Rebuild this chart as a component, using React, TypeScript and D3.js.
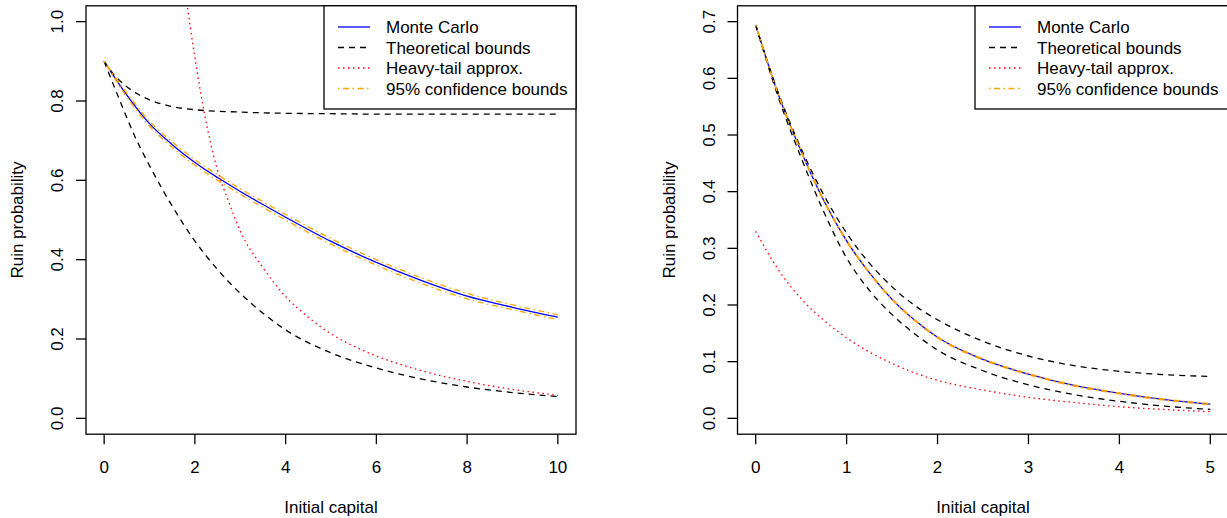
import React from 'react';
import * as d3 from 'd3';

// ---------- Left panel data ----------
const xTicksL = [0, 2, 4, 6, 8, 10];
const yTicksL = [0, 0.2, 0.4, 0.6, 0.8, 1.0];

const mcXL = [0, 0.5, 1, 1.5, 2, 2.5, 3, 3.5, 4, 5, 6, 7, 8, 9, 10];
const mcL = [0.900, 0.815, 0.743, 0.690, 0.645, 0.607, 0.572, 0.539, 0.507, 0.446, 0.393, 0.347, 0.308, 0.280, 0.255];
const ciUpL = [0.900, 0.820, 0.749, 0.697, 0.652, 0.614, 0.579, 0.546, 0.514, 0.453, 0.400, 0.354, 0.315, 0.286, 0.261];
const ciLoL = [0.900, 0.810, 0.737, 0.683, 0.638, 0.600, 0.565, 0.532, 0.500, 0.439, 0.386, 0.340, 0.301, 0.274, 0.249];

const ubXL = [0, 0.25, 0.5, 0.75, 1, 1.5, 2, 3, 4, 5, 6, 8, 10];
const ubL = [0.900, 0.862, 0.836, 0.817, 0.803, 0.786, 0.778, 0.772, 0.769, 0.768, 0.767, 0.767, 0.767];

const lbXL = [0, 0.35, 0.7, 1, 1.5, 2, 2.5, 3, 3.5, 4, 5, 6, 7, 8, 9, 10];
const lbL = [0.900, 0.800, 0.705, 0.637, 0.535, 0.447, 0.375, 0.315, 0.265, 0.223, 0.165, 0.127, 0.099, 0.079, 0.065, 0.055];

const htXL = [1.6, 1.7, 1.8, 2, 2.2, 2.5, 2.75, 3, 3.5, 4, 4.5, 5, 5.5, 6, 6.5, 7, 8, 9, 10];
const htL = [1.26, 1.17, 1.07, 0.91, 0.775, 0.625, 0.545, 0.472, 0.380, 0.307, 0.255, 0.213, 0.182, 0.157, 0.137, 0.120, 0.093, 0.073, 0.058];

// ---------- Right panel data ----------
const xTicksR = [0, 1, 2, 3, 4, 5];
const yTicksR = [0, 0.1, 0.2, 0.3, 0.4, 0.5, 0.6, 0.7];

const gridR = [0, 0.25, 0.5, 0.75, 1, 1.25, 1.5, 1.75, 2, 2.5, 3, 3.5, 4, 4.5, 5];
const mcR = [0.694, 0.571, 0.471, 0.384, 0.313, 0.257, 0.210, 0.173, 0.143, 0.104, 0.078, 0.058, 0.044, 0.033, 0.025];
const ciUpR = [0.694, 0.572, 0.472, 0.385, 0.314, 0.258, 0.211, 0.174, 0.144, 0.105, 0.079, 0.059, 0.045, 0.034, 0.026];
const ciLoR = [0.694, 0.570, 0.470, 0.383, 0.312, 0.256, 0.209, 0.172, 0.142, 0.103, 0.077, 0.057, 0.043, 0.032, 0.024];
const ubR = [0.694, 0.574, 0.476, 0.394, 0.327, 0.274, 0.232, 0.199, 0.174, 0.136, 0.110, 0.093, 0.083, 0.077, 0.074];
const lbR = [0.694, 0.566, 0.460, 0.364, 0.283, 0.226, 0.183, 0.149, 0.1205, 0.084, 0.059, 0.042, 0.030, 0.0215, 0.0158];
const htR = [0.330, 0.262, 0.211, 0.173, 0.142, 0.117, 0.097, 0.080, 0.067, 0.050, 0.037, 0.028, 0.0205, 0.0155, 0.0117];

const legendLabels = ['Monte Carlo', 'Theoretical bounds', 'Heavy-tail approx.', '95% confidence bounds'];
const xLabel = 'Initial capital';
const yLabel = 'Ruin probability';

const FONT = '"Liberation Sans", Arial, Helvetica, sans-serif';
const LW = 1.3;

const styles = {
  mc: { stroke: '#0000ff', dash: undefined as string | undefined },
  bound: { stroke: '#000000', dash: '6 5' },
  heavy: { stroke: '#ff0000', dash: '1.5 3.5' },
  ci: { stroke: '#ffa500', dash: '1.5 3.5 6 3.5' },
};
const legendStyles = [styles.mc, styles.bound, styles.heavy, styles.ci];

type Series = { xs: number[]; ys: number[]; style: { stroke: string; dash?: string } };

function Panel(props: {
  id: string;
  x0: number; x1: number; y0: number; y1: number;
  xDomain: [number, number]; yDomain: [number, number];
  xTicks: number[]; yTicks: number[];
  series: Series[];
  legendLeft: number;
}) {
  const { id, x0, x1, y0, y1, xDomain, yDomain, xTicks, yTicks, series, legendLeft } = props;
  const x = d3.scaleLinear().domain(xDomain).range([x0, x1]);
  const y = d3.scaleLinear().domain(yDomain).range([y1, y0]);
  const fmt = d3.format('.1f');
  const legendBottom = 109;
  const rowY = [27, 47.5, 68, 88.5];
  const sampleX0 = legendLeft + 14;
  const sampleX1 = legendLeft + 46;
  const textX = legendLeft + 62;
  return (
    <g>
      <defs>
        <clipPath id={id}>
          <rect x={x0} y={y0} width={x1 - x0} height={y1 - y0} />
        </clipPath>
      </defs>
      <g clipPath={`url(#${id})`}>
        {series.map((s, i) => {
          const pts = s.xs.map((xv, j) => [xv, s.ys[j]] as [number, number]);
          const line = d3.line<[number, number]>()
            .x(d => x(d[0]))
            .y(d => y(d[1]))
            .curve(d3.curveMonotoneX);
          return (
            <path key={i} d={line(pts) || ''} fill="none" stroke={s.style.stroke}
              strokeWidth={LW} strokeDasharray={s.style.dash} />
          );
        })}
      </g>
      {/* box */}
      <rect x={x0} y={y0} width={x1 - x0} height={y1 - y0} fill="none" stroke="#000" strokeWidth={LW} />
      {/* x axis */}
      {xTicks.map(t => (
        <g key={'xt' + t}>
          <line x1={x(t)} x2={x(t)} y1={y1} y2={y1 + 10} stroke="#000" strokeWidth={LW} />
          <text x={x(t)} y={473} textAnchor="middle" fontSize={17} fontFamily={FONT}>{t}</text>
        </g>
      ))}
      {/* y axis */}
      {yTicks.map(t => (
        <g key={'yt' + t}>
          <line x1={x0 - 10} x2={x0} y1={y(t)} y2={y(t)} stroke="#000" strokeWidth={LW} />
          <text transform={`translate(${x0 - 23},${y(t)}) rotate(-90)`} textAnchor="middle"
            fontSize={17} fontFamily={FONT}>{fmt(t)}</text>
        </g>
      ))}
      <text x={(x0 + x1) / 2} y={513} textAnchor="middle" fontSize={17} fontFamily={FONT}>{xLabel}</text>
      <text transform={`translate(${x0 - 63},${(y0 + y1) / 2}) rotate(-90)`} textAnchor="middle"
        fontSize={17} fontFamily={FONT}>{yLabel}</text>
      {/* legend */}
      <rect x={legendLeft} y={y0} width={x1 - legendLeft} height={legendBottom - y0}
        fill="#fff" stroke="#000" strokeWidth={LW} />
      {legendLabels.map((lab, i) => (
        <g key={'lg' + i}>
          <line x1={sampleX0} x2={sampleX1} y1={rowY[i]} y2={rowY[i]}
            stroke={legendStyles[i].stroke} strokeWidth={LW} strokeDasharray={legendStyles[i].dash} />
          <text x={textX} y={rowY[i] + 6} fontSize={17} fontFamily={FONT}>{lab}</text>
        </g>
      ))}
    </g>
  );
}

export default function App() {
  const leftSeries: Series[] = [
    { xs: mcXL, ys: mcL, style: styles.mc },
    { xs: ubXL, ys: ubL, style: styles.bound },
    { xs: lbXL, ys: lbL, style: styles.bound },
    { xs: htXL, ys: htL, style: styles.heavy },
    { xs: mcXL, ys: ciUpL, style: styles.ci },
    { xs: mcXL, ys: ciLoL, style: styles.ci },
  ];
  const rightSeries: Series[] = [
    { xs: gridR, ys: mcR, style: styles.mc },
    { xs: gridR, ys: ubR, style: styles.bound },
    { xs: gridR, ys: lbR, style: styles.bound },
    { xs: gridR, ys: htR, style: styles.heavy },
    { xs: gridR, ys: ciUpR, style: styles.ci },
    { xs: gridR, ys: ciLoR, style: styles.ci },
  ];
  return (
    <svg width={1227} height={518} style={{ position: 'fixed', left: 0, top: 0, background: '#fff' }}>
      <rect x={0} y={0} width={1227} height={518} fill="#fff" />
      <Panel id="clipL" x0={86} x1={576} y0={5.8} y1={434.2}
        xDomain={[-0.4, 10.4]} yDomain={[-0.04, 1.04]}
        xTicks={xTicksL} yTicks={yTicksL} series={leftSeries} legendLeft={324} />
      <Panel id="clipR" x0={737.5} x1={1228.5} y0={5.8} y1={434.2}
        xDomain={[-0.2, 5.2]} yDomain={[-0.028, 0.728]}
        xTicks={xTicksR} yTicks={yTicksR} series={rightSeries} legendLeft={975} />
    </svg>
  );
}
